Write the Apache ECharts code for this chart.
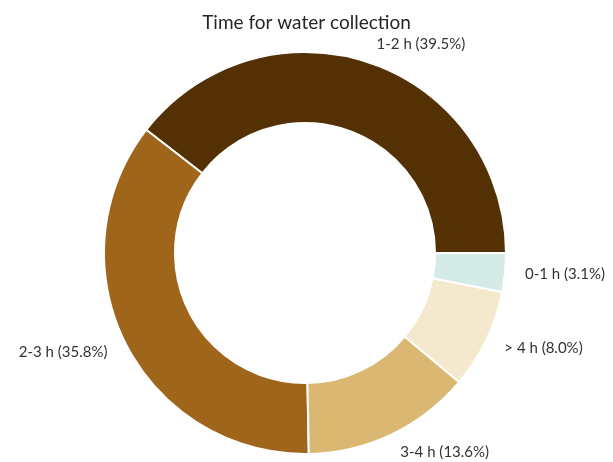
<!DOCTYPE html>
<html>
<head>
<meta charset="utf-8">
<script src="https://cdn.jsdelivr.net/npm/echarts@6/dist/echarts.min.js"></script>
<style>
  html, body { margin: 0; padding: 0; background: #ffffff; }
  #chart { width: 613px; height: 462px; }
</style>
</head>
<body>
<div id="chart"></div>
<script>
// Data (drawn counter-clockwise from 3 o'clock)
const categories = ['1-2 h', '2-3 h', '3-4 h', '> 4 h', '0-1 h'];
const shares = [39.5, 35.8, 13.6, 8.0, 3.1];
const colors = ['#543005', '#9f651b', '#dbb871', '#f5e9cd', '#d5ebe8'];
const titleText = 'Time for water collection';

const chart = echarts.init(document.getElementById('chart'), null, { renderer: 'canvas' });
const FONT = 'Lato, "Noto Sans", sans-serif';

chart.setOption({
  backgroundColor: '#ffffff',
  animation: false,
  title: {
    text: titleText,
    left: 'center',
    top: 8,
    textStyle: { fontFamily: FONT, fontSize: 19, fontWeight: 'normal', color: '#262626' }
  },
  series: [{
    type: 'pie',
    center: [305, 253],
    radius: [130, 201],
    startAngle: 0,
    clockwise: false,
    avoidLabelOverlap: false,
    itemStyle: { borderColor: '#ffffff', borderWidth: 2 },
    label: {
      show: true,
      position: 'outside',
      distanceToLabelLine: 0,
      fontFamily: FONT,
      fontSize: 15,
      color: '#333333',
      formatter: p => p.name + ' (' + p.value.toFixed(1) + '%)'
    },
    labelLine: { show: false, length: 20, length2: 0 },
    emphasis: { disabled: true },
    data: categories.map((c, i) => ({ name: c, value: shares[i], itemStyle: { color: colors[i] } }))
  }]
});
</script>
</body>
</html>
